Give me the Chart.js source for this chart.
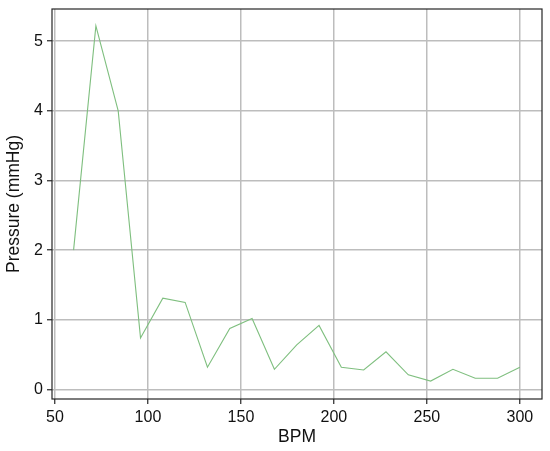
<!DOCTYPE html>
<html lang="en">
<head>
    <meta charset="UTF-8">
    <title>Pressure vs BPM</title>
    <script src="https://cdn.jsdelivr.net/npm/chart.js@4.4.0/dist/chart.umd.min.js"></script>
    <style>
        body { margin: 0; background: #ffffff; }
        canvas { display: block; }
    </style>
</head>
<body>
    <canvas id="pressureChart" width="550" height="451"></canvas>

    <script>
        // Values
        const bpm = [60, 72, 84, 96, 108, 120, 132, 144, 156, 168, 180, 192, 204, 216, 228, 240, 252, 264, 276, 288, 300];
        const pressure = [2.0, 5.22, 4.0, 0.74, 1.31, 1.25, 0.32, 0.875, 1.02, 0.29, 0.64, 0.92, 0.32, 0.28, 0.54, 0.21, 0.12, 0.29, 0.16, 0.16, 0.32];
        const xTicks = [50, 100, 150, 200, 250, 300];
        const yTicks = [0, 1, 2, 3, 4, 5];

        const fontFamily = '"Liberation Sans", Arial, sans-serif';

        // draws the box round the plot area
        const frame = {
            id: 'frame',
            afterDatasetsDraw(chart) {
                const a = chart.chartArea;
                const c = chart.ctx;
                c.save();
                c.strokeStyle = '#262626';
                c.lineWidth = 1.2;
                c.strokeRect(a.left, a.top, a.right - a.left, a.bottom - a.top);
                c.restore();
            }
        };

        const ctx = document.getElementById('pressureChart').getContext('2d');
        new Chart(ctx, {
            type: 'line',
            data: {
                datasets: [{
                    data: bpm.map((b, i) => ({ x: b, y: pressure[i] })),
                    borderColor: 'rgb(127, 191, 127)',
                    borderWidth: 1.1,
                    pointRadius: 0,
                    tension: 0,
                    fill: false
                }]
            },
            options: {
                responsive: false,
                animation: false,
                layout: { padding: { top: 9, right: 8, left: 0, bottom: 0 } },
                plugins: {
                    legend: { display: false },
                    tooltip: { enabled: false }
                },
                scales: {
                    x: {
                        type: 'linear',
                        min: 48.4,
                        max: 311.9,
                        afterBuildTicks: s => { s.ticks = xTicks.map(v => ({ value: v })); },
                        afterFit: s => { s.height = 52; s.paddingLeft = 0; s.paddingRight = 0; },
                        grid: {
                            color: '#bdbdbd',
                            lineWidth: 1.5,
                            tickColor: '#262626',
                            tickLength: 5,
                            tickWidth: 1.2
                        },
                        border: { display: false },
                        ticks: {
                            color: '#111',
                            padding: 4,
                            maxRotation: 0,
                            font: { family: fontFamily, size: 16 }
                        },
                        title: {
                            display: true,
                            text: 'BPM',
                            color: '#111',
                            padding: { top: 4, bottom: 3 },
                            font: { family: fontFamily, size: 17.5 }
                        }
                    },
                    y: {
                        min: -0.137,
                        max: 5.463,
                        afterBuildTicks: s => { s.ticks = yTicks.map(v => ({ value: v })); },
                        afterFit: s => { s.width = 52; s.paddingTop = 0; s.paddingBottom = 0; },
                        grid: {
                            color: '#bdbdbd',
                            lineWidth: 1.5,
                            tickColor: '#262626',
                            tickLength: 5,
                            tickWidth: 1.2
                        },
                        border: { display: false },
                        ticks: {
                            color: '#111',
                            padding: 4,
                            font: { family: fontFamily, size: 16 }
                        },
                        title: {
                            display: true,
                            text: 'Pressure (mmHg)',
                            color: '#111',
                            padding: { top: 4, bottom: 0 },
                            font: { family: fontFamily, size: 17.5 }
                        }
                    }
                }
            },
            plugins: [frame]
        });
    </script>
</body>
</html>
